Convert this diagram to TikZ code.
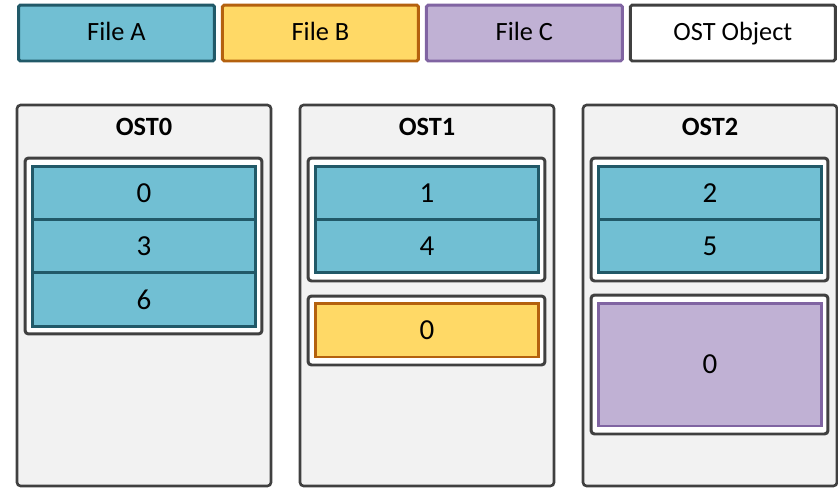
\documentclass[tikz,border=0pt]{standalone}
\usepackage{fontspec}
\setmainfont{Carlito}
\usetikzlibrary{positioning}
\definecolor{fileA}{HTML}{71BFD3}
\definecolor{fileAdraw}{HTML}{215968}
\definecolor{fileB}{HTML}{FFD966}
\definecolor{fileBdraw}{HTML}{B4610E}
\definecolor{fileC}{HTML}{C0B1D4}
\definecolor{fileCdraw}{HTML}{8064A2}
\definecolor{ostgray}{HTML}{F2F2F2}
\definecolor{ostdraw}{HTML}{404040}

\begin{document}
\begin{tikzpicture}[x=0.02cm,y=-0.02cm,node distance=0.1cm,
                    font=\fontsize{16.5}{19}\selectfont]
  \tikzstyle{legend}=[rectangle,minimum width=3.92cm,minimum height=1.12cm,
                      line width=1.7pt,rounded corners=1pt,text height=1.9ex,text depth=0.2ex,
                      font=\fontsize{15}{18}\selectfont]
  \tikzstyle{ost}=[rectangle,fill=ostgray,draw=ostdraw,line width=1.5pt,
                   rounded corners=2pt,minimum width=5.08cm,minimum height=7.62cm]
  \tikzstyle{title}=[font=\fontsize{15}{18}\selectfont\bfseries]
  \tikzstyle{object}=[rectangle,fill=white,draw=ostdraw,line width=1.7pt,
                      rounded corners=2pt,minimum width=4.74cm]
  \tikzstyle{stripe}=[rectangle,line width=1.7pt,minimum width=4.48cm,
                      minimum height=1.07cm,outer sep=0pt]

  \useasboundingbox (0,0) rectangle (838,487);

  % legend
  \node[legend,fill=fileA,draw=fileAdraw] (la)              at (116.5,33) {File A};
  \node[legend,fill=fileB,draw=fileBdraw] (lb) [right=of la] {File B};
  \node[legend,fill=fileC,draw=fileCdraw] (lc) [right=of lb] {File C};
  \node[legend,fill=white,draw=ostdraw,minimum width=4.1cm] (lo) [right=of lc] {OST Object};

  % targets
  \node[ost] (ost0) at (144,295.5) {};
  \node[ost] (ost1) at (427,295.5) {};
  \node[ost] (ost2) at (710,295.5) {};
  \node[title] (t0) at (144,127) {OST0};
  \node[title] (t1) at (427,127) {OST1};
  \node[title] (t2) at (710,127) {OST2};

  % OST0
  \node[object,minimum height=3.52cm] (obj0a) at (143.5,246) {};
  \node[stripe,fill=fileA,draw=fileAdraw] (a0) at (144,192.75) {0};
  \node[stripe,fill=fileA,draw=fileAdraw] (a3) [below=0pt of a0] {3};
  \node[stripe,fill=fileA,draw=fileAdraw] (a6) [below=0pt of a3] {6};

  % OST1
  \node[object,minimum height=2.46cm] (obj1a) at (426.5,219.5) {};
  \node[stripe,fill=fileA,draw=fileAdraw] (a1) at (427,192.75) {1};
  \node[stripe,fill=fileA,draw=fileAdraw] (a4) [below=0pt of a1] {4};
  \node[object,minimum height=1.38cm] (obj1b) at (426.5,330.5) {};
  \node[stripe,fill=fileB,draw=fileBdraw,minimum height=1.08cm] (b0) at (427,330) {0};

  % OST2
  \node[object,minimum height=2.46cm] (obj2a) at (709.5,219.5) {};
  \node[stripe,fill=fileA,draw=fileAdraw] (a2) at (710,192.75) {2};
  \node[stripe,fill=fileA,draw=fileAdraw] (a5) [below=0pt of a2] {5};
  \node[object,minimum height=2.78cm] (obj2b) at (709.5,364.5) {};
  \node[stripe,fill=fileC,draw=fileCdraw,minimum height=2.46cm] (c0) at (710,364.5) {0};
\end{tikzpicture}
\end{document}
